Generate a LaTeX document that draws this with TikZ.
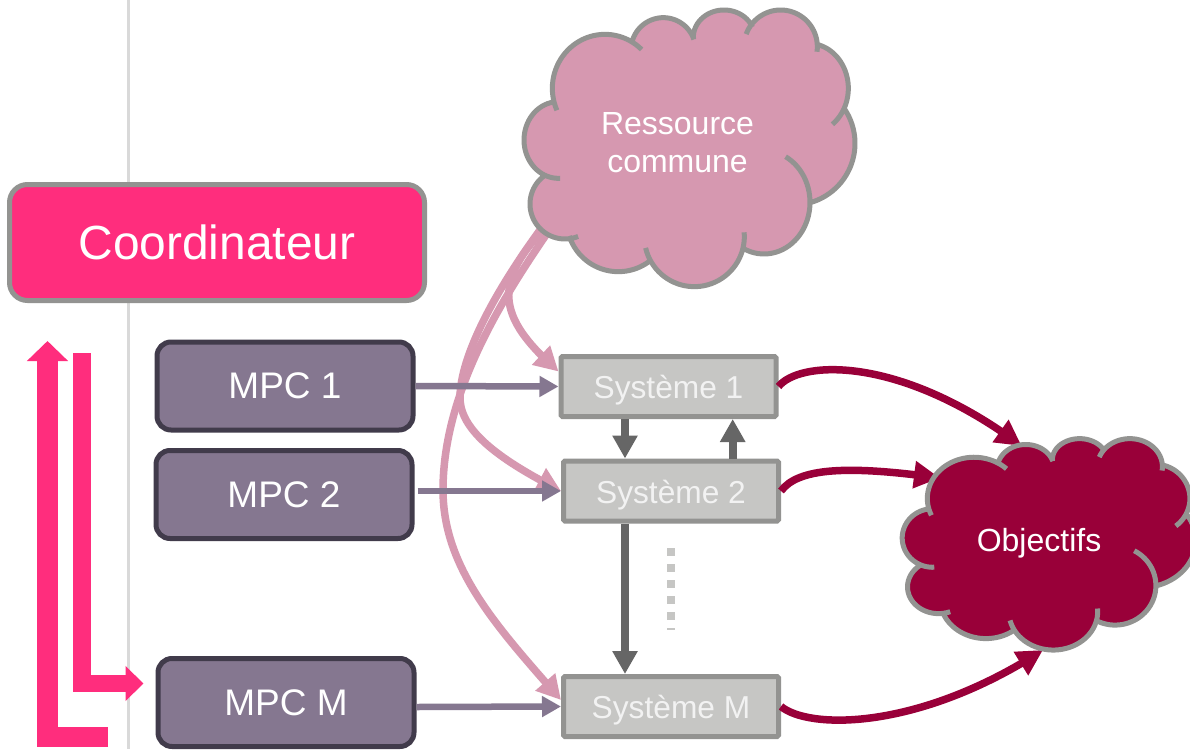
\documentclass[tikz,border=0pt]{standalone}
\usepackage{fontspec}
\setmainfont{Liberation Sans}
\usetikzlibrary{arrows.meta,bending}
\definecolor{rosecl}{HTML}{D698B0}
\definecolor{grayln}{HTML}{939391}
\definecolor{wine}{HTML}{990039}
\definecolor{hotpink}{HTML}{FF2D7D}
\definecolor{mpcfill}{HTML}{857790}
\definecolor{mpcline}{HTML}{413B4B}
\definecolor{sysfill}{HTML}{C6C6C4}
\definecolor{darkarr}{HTML}{666666}
\definecolor{sep}{HTML}{D9D9D9}
\tikzset{
  coordbox/.style={draw=grayln,fill=hotpink,line width=5pt,rounded corners=18pt,minimum width=415pt,minimum height=116pt,text=white,font=\fontsize{47.9}{48}\selectfont,inner sep=0pt},
  mpcbox/.style={draw=mpcline,fill=mpcfill,line width=5pt,rounded corners=14pt,minimum width=256pt,minimum height=88pt,text=white,font=\fontsize{37}{37}\selectfont,inner sep=0pt},
  sysbox/.style={draw=grayln,fill=sysfill,line width=5pt,rounded corners=1.5pt,minimum width=215pt,minimum height=60pt,text=white!95!black,font=\fontsize{31.7}{32}\selectfont,inner sep=0pt,text height=25pt,text depth=1pt},
  cloudtext/.style={text=white,align=center,font=\fontsize{32}{38}\selectfont,inner sep=0pt},
  ctrlarrow/.style={draw=mpcfill,line width=6.5pt,-{Triangle[length=19pt,width=20pt]}},
  sysarrow/.style={draw=darkarr,line width=8pt,-{Triangle[length=23pt,width=24pt]}},
  resarrow/.style={draw=rosecl,line width=7.5pt,-{Triangle[length=24pt,width=25pt,flex]}},
  objarrow/.style={draw=wine,line width=7.5pt,line cap=butt,-{Triangle[length=26pt,width=26pt,flex]}},
  blockup/.style={draw=hotpink,line width=20.5pt,miter limit=10,-{Triangle[length=20pt,width=40pt]}},
  blockright/.style={draw=hotpink,line width=17.5pt,miter limit=10,-{Triangle[length=18pt,width=34pt]}},
}
% cloud: elliptic lobes cx,cy,rx,ry,from,to in the coordinates of a 3x crop
\newcommand\cloudlobes{%
  \lobe{315}{265}{158}{162}{156}{314}
  \lobe{490}{150}{97}{97}{195}{341}
  \lobe{672}{112}{92}{82}{176}{338}
  \lobe{842}{140}{110}{110}{200}{368}
  \lobe{925}{265}{120}{135}{282}{413}
  \lobe{880}{430}{185}{185}{325}{433}
  \lobe{792}{607}{138}{155}{298}{476}
  \lobe{583}{710}{150}{150}{-5}{167}
  \lobe{355}{660}{155}{155}{53}{162}
  \lobe{195}{612}{105}{105}{68}{232}
  \lobe{175}{420}{103}{115}{87}{265}
}
\newcommand\cloudat[6]{% x0,y0,sx,sy,fill,line
  \begin{scope}[shift={(#1,#2)},xscale=#3,yscale=#4]
    \def\lobe##1##2##3##4##5##6{plot[domain=##5:##6,samples=40] ({##1+##3*cos(\x)},{##2+##4*sin(\x)})}
    \fill[#5] (165,305)--(400,125)--(580,95)--(750,78)--(950,135)--(1030,325)--(935,607)--(732,742)--(445,785)--(205,710)--(125,522)--cycle
      \cloudlobes;
    \draw[#6,line width=5pt] \cloudlobes;
  \end{scope}}
\begin{document}
\begin{tikzpicture}[x=1pt,y=-1pt]
\clip (0,0) rectangle (1190,749);
\fill[white] (0,0) rectangle (1190,749);
\coordinate (septop) at (128.3,0);
\coordinate (sepbot) at (128.3,749);
\draw[sep,line width=3pt] (septop) -- (sepbot);

\node[coordbox] (coordo) at (217,242.5) {Coordinateur};
\node[mpcbox] (m1) at (285,386) {MPC 1};
\node[mpcbox] (m2) at (284,494.5) {MPC 2};
\node[mpcbox] (mm) at (286,702.5) {MPC M};
\node[sysbox] (s1) at (668.5,386.5) {Système 1};
\node[sysbox] (s2) at (671,491) {Système 2};
\node[sysbox] (sm) at (671,706.5) {Système M};

% feedback block arrows
\coordinate (upstart) at (108,737);
\coordinate (upcorner) at (47.5,737);
\coordinate (uptip) at (47.5,341);
\draw[blockup] (upstart) -- (upcorner) -- (uptip);
\coordinate (dnstart) at (82,353);
\coordinate (dncorner) at (82,683.5);
\coordinate (dntip) at (143.5,683.5);
\draw[blockright] (dnstart) -- (dncorner) -- (dntip);

% resource arrows
\coordinate (ra) at (545,228);
\coordinate (rb) at (540,230);
\coordinate (rc) at (548,232);
\draw[resarrow] (ra) .. controls (490,285) and (500,320) .. ([yshift=15pt]s1.west);
\draw[resarrow] (rb) .. controls (500,285) and (462,350) .. (460,395) .. controls (458,430) and (500,460) .. (s2.west);
\draw[resarrow] (rc) .. controls (505,295) and (443,390) .. (443,490) .. controls (443,570) and (500,630) .. ([yshift=6.5pt]sm.west);

% control arrows
\draw[ctrlarrow] (m1.east) -- (s1.west);
\draw[ctrlarrow] ([xshift=3pt,yshift=3.5pt]m2.east) -- (s2.west);
\draw[ctrlarrow] ([yshift=-4.5pt]mm.east) -- (sm.west);

% system arrows
\draw[sysarrow] ([xshift=-43.5pt]s1.south) -- ([xshift=-46pt]s2.north);
\draw[sysarrow] ([xshift=61.7pt]s2.north) -- ([xshift=64.2pt]s1.south);
\draw[sysarrow] ([xshift=-46pt]s2.south) -- ([xshift=-46pt]sm.north);
\coordinate (dotsa) at (671,548);
\coordinate (dotsb) at (671,630);
\draw[sysfill,line width=8pt,dash pattern=on 8pt off 8pt] (dotsa) -- (dotsb);

% objective arrows
\coordinate (oa) at (1021.7,446);
\coordinate (ob) at (940,478);
\coordinate (oc) at (1043,650);
\draw[objarrow] (s1.east) .. controls (800,360) and (900,355) .. (oa);
\draw[objarrow] (s2.east) .. controls (800,465) and (860,467) .. (ob);
\draw[objarrow] (sm.east) .. controls (810,730) and (920,730) .. (oc);

% clouds
\cloudat{500}{0}{0.33333}{0.33333}{rosecl}{grayln}
\cloudat{880.9}{431}{0.2957}{0.2547}{wine}{grayln}
\node[cloudtext] (res) at (677.5,143) {Ressource\\commune};
\node[cloudtext] (obj) at (1039,543) {Objectifs};
\end{tikzpicture}
\end{document}
